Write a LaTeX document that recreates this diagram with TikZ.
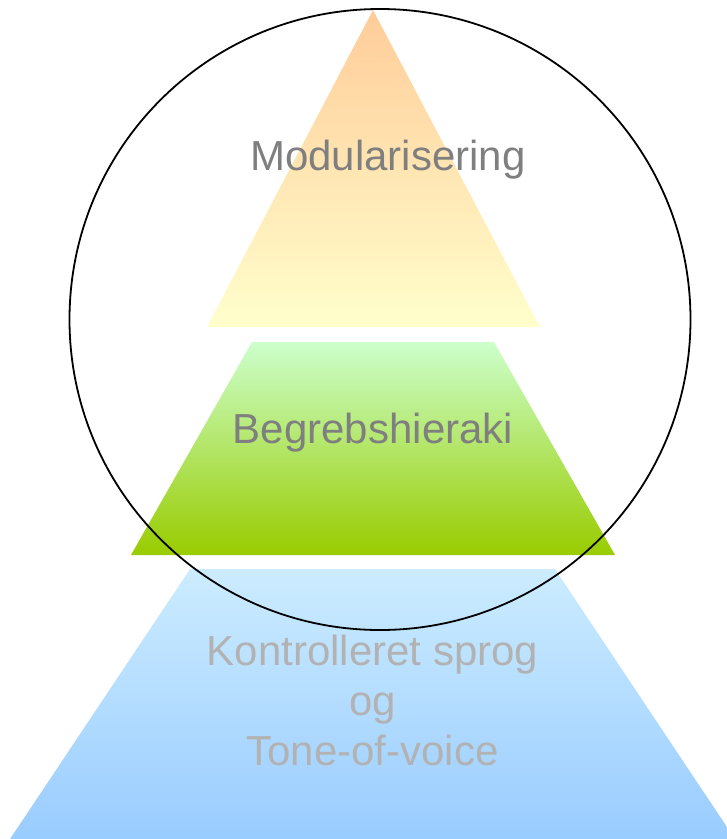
\documentclass[tikz,border=0pt]{standalone}
\usepackage{fontspec}
\setmainfont{Liberation Sans}
\definecolor{topA}{HTML}{FFCC99}
\definecolor{topB}{HTML}{FFFFCC}
\definecolor{midA}{HTML}{CCFFCC}
\definecolor{midB}{HTML}{99CC00}
\definecolor{lowA}{HTML}{CCECFF}
\definecolor{lowB}{HTML}{99CCFF}
\definecolor{darktxt}{HTML}{7F7F7F}
\definecolor{lighttxt}{HTML}{B2B2B2}
\tikzset{
  lbl/.style={inner sep=0pt, font=\fontsize{42}{50}\selectfont},
  ring/.style={draw=black, line width=1.8pt}
}
\begin{document}
\begin{tikzpicture}[x=1pt,y=-1pt]
\useasboundingbox (0,0) rectangle (727,839);
\begin{scope}
\clip (0,0) rectangle (727,839);
% bottom trapezoid
\shade[top color=lowA, bottom color=lowB] (190,569) -- (555,569) -- (735,839) -- (10,839) -- cycle;
\end{scope}
% middle trapezoid
\shade[top color=midA, bottom color=midB] (252,342) -- (494,342) -- (615,555) -- (131,555) -- cycle;
% top triangle
\shade[top color=topA, bottom color=topB] (373,10) -- (540,327) -- (207,327) -- cycle;
% circle
\node[ring, circle, minimum size=621pt, inner sep=0pt] (ring) at (380,319.5) {};
% labels
\node[lbl, text=darktxt, anchor=base] (mod) at (388,170) {Modularisering};
\node[lbl, text=darktxt, anchor=base] (beg) at (373,443) {Begrebshieraki};
\node[lbl, text=lighttxt, align=center, anchor=center] (kon) at (372.5,700) {Kontrolleret sprog\\og\\Tone-of-voice};
\end{tikzpicture}
\end{document}
